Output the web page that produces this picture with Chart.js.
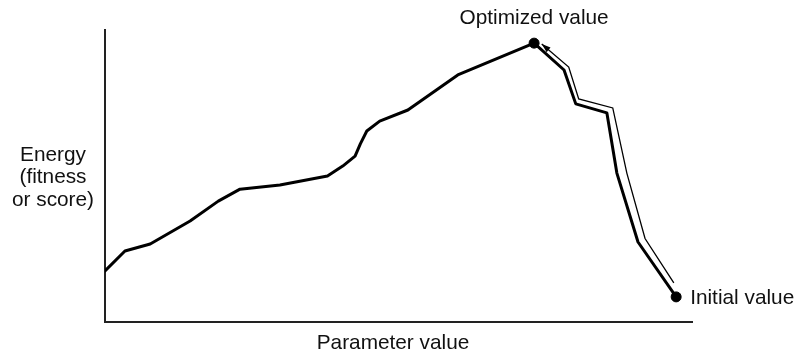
<!DOCTYPE html>
<html>
<head>
<meta charset="utf-8">
<script src="https://cdn.jsdelivr.net/npm/chart.js@4"></script>
<style>
  html, body { margin: 0; padding: 0; background: #fff; }
  #wrap { width: 799px; height: 353px; }
</style>
</head>
<body>
<div id="wrap"><canvas id="grafico" width="799" height="353"></canvas></div>
<script>
// energy landscape along the parameter axis (arbitrary units, 0-100)
const paramX = [0, 3.4, 7.7, 14.5, 19.3, 23.0, 29.8, 37.9, 40.5, 42.6, 43.5, 44.6, 46.8, 51.6, 60.1, 73.1, 78.2, 80.2, 85.5, 87.2, 90.8, 97.3];
const energyY = [17.5, 24.3, 26.7, 34.6, 41.4, 45.5, 46.9, 50.0, 53.4, 56.8, 61.0, 65.4, 68.8, 72.6, 84.6, 95.5, 86.3, 74.7, 71.6, 51.0, 27.4, 8.6];

// path followed by the optimizer, from the start back up to the peak
const pathX = [96.9, 92.0, 88.9, 86.5, 80.7, 79.0, 74.4];
const pathY = [13.4, 28.6, 51.0, 73.3, 76.4, 87.3, 95.2];

const inicio = { x: 97.3, y: 8.6 };
const otimo = { x: 73.1, y: 95.5 };

const fonte = '20.8px "Liberation Sans", Arial, Helvetica, sans-serif';

const toPts = (xs, ys) => xs.map((x, i) => ({ x: x, y: ys[i] }));

const rotulos = {
    id: 'rotulos',
    afterDraw(chart) {
        const ctx = chart.ctx;
        const sx = chart.scales.x;
        const sy = chart.scales.y;

        // arrowhead at the end of the optimizer path
        const n = pathX.length;
        const x1 = sx.getPixelForValue(pathX[n - 2]), y1 = sy.getPixelForValue(pathY[n - 2]);
        const x2 = sx.getPixelForValue(pathX[n - 1]), y2 = sy.getPixelForValue(pathY[n - 1]);
        const ang = Math.atan2(y2 - y1, x2 - x1);
        ctx.save();
        ctx.fillStyle = '#000';
        ctx.beginPath();
        ctx.moveTo(x2, y2);
        ctx.lineTo(x2 - 9 * Math.cos(ang) + 3 * Math.sin(ang), y2 - 9 * Math.sin(ang) - 3 * Math.cos(ang));
        ctx.lineTo(x2 - 9 * Math.cos(ang) - 3 * Math.sin(ang), y2 - 9 * Math.sin(ang) + 3 * Math.cos(ang));
        ctx.closePath();
        ctx.fill();

        ctx.font = fonte;
        ctx.fillStyle = '#111';
        ctx.textBaseline = 'middle';

        ctx.textAlign = 'center';
        ctx.fillText('Optimized value', sx.getPixelForValue(otimo.x), 18);
        ctx.fillText('Parameter value', 393, 343);
        ['Energy', '(fitness', 'or score)'].forEach((linha, i) => {
            ctx.fillText(linha, 53, 155 + i * 22.5);
        });

        ctx.textAlign = 'left';
        ctx.fillText('Initial value', sx.getPixelForValue(inicio.x) + 14, sy.getPixelForValue(inicio.y) + 1);
        ctx.restore();
    }
};

new Chart(document.getElementById('grafico'), {
    type: 'line',
    data: {
        datasets: [
            {
                data: toPts(paramX, energyY),
                borderColor: '#000',
                borderWidth: 3,
                pointRadius: 0,
                tension: 0,
                borderJoinStyle: 'round',
                borderCapStyle: 'round'
            },
            {
                data: toPts(pathX, pathY),
                borderColor: '#000',
                borderWidth: 1.3,
                pointRadius: 0,
                tension: 0
            },
            {
                data: [inicio, otimo],
                showLine: false,
                pointRadius: 5,
                pointBackgroundColor: '#000',
                pointBorderColor: '#000'
            }
        ]
    },
    options: {
        responsive: false,
        animation: false,
        events: [],
        layout: { padding: { left: 105, right: 107, top: 30, bottom: 31 } },
        plugins: { legend: { display: false }, tooltip: { enabled: false } },
        scales: {
            x: {
                type: 'linear', min: 0, max: 100,
                grid: { display: false, drawTicks: false },
                ticks: { display: false },
                border: { display: true, color: '#222', width: 2 }
            },
            y: {
                type: 'linear', min: 0, max: 100,
                grid: { display: false, drawTicks: false },
                ticks: { display: false },
                border: { display: true, color: '#222', width: 2 }
            }
        }
    },
    plugins: [rotulos]
});
</script>
</body>
</html>
